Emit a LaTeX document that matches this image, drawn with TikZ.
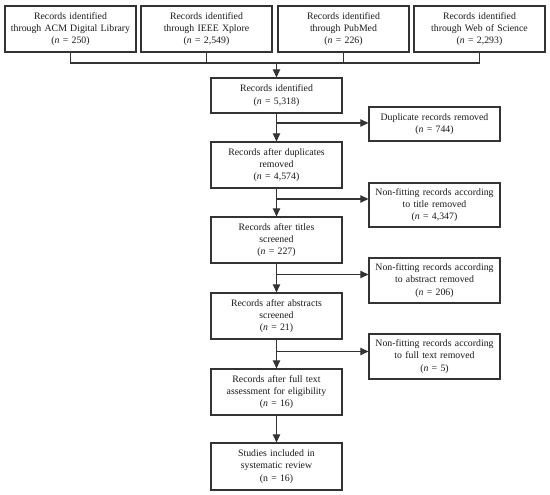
\documentclass[tikz,border=0pt]{standalone}
\usepackage{fontspec}
\setmainfont{Liberation Serif}
\usetikzlibrary{positioning, arrows.meta}

\begin{document}
\begin{tikzpicture}[
  x=1pt, y=-1pt,
  color=black!80, line width=1.2pt,
  box/.style  = {rectangle, draw, line width=1.3pt, minimum width=131pt, text width=125pt, align=center,
                 inner sep=0pt, font=\fontsize{9.8}{12.4}\selectfont, text=black!90},
  arr/.style  = {-{Triangle[length=8pt, width=7.5pt]}},
  ]
  \useasboundingbox (0,0) rectangle (550,495);

  % Database searches
  \node (acm)    at (70.5,29)   [box, minimum height=46pt] {Records identified\\ through ACM Digital Library\\ (\textit{n} = 250)};
  \node (ieee)   at (206.5,29)  [box, minimum height=46pt] {Records identified\\ through IEEE Xplore\\ (\textit{n} = 2,549)};
  \node (pubmed) at (343.5,29)  [box, minimum height=46pt] {Records identified\\ through PubMed\\ (\textit{n} = 226)};
  \node (wos)    at (479.5,29)  [box, minimum height=46pt] {Records identified\\ through Web of Science\\ (\textit{n} = 2,293)};

  % Screening steps
  \node (ident)     at (276.5,95.5) [box, minimum height=35pt] {Records identified\\ (\textit{n} = 5,318)};
  \node (afterdup)  at (276.5,165)  [box, minimum height=46pt] {Records after duplicates\\ removed\\ (\textit{n} = 4,574)};
  \node (titles)    at (276.5,240)  [box, minimum height=46pt] {Records after titles\\ screened\\ (\textit{n} = 227)};
  \node (abstracts) at (276.5,316)  [box, minimum height=46pt] {Records after abstracts\\ screened\\ (\textit{n} = 21)};
  \node (fulltext)  at (276.5,392)  [box, minimum height=46pt] {Records after full text\\ assessment for eligibility\\ (\textit{n} = 16)};
  \node (studies)   at (276.5,466.5)[box, minimum height=47pt] {Studies included in\\ systematic review\\ (n = 16)};

  % Excluded records
  \node (dup)     at (434.5,124)   [box, minimum height=34pt] {Duplicate records removed\\ (\textit{n} = 744)};
  \node (notitle) at (434.5,205)   [box, minimum height=44pt] {Non-fitting records according\\ to title removed\\ (\textit{n} = 4,347)};
  \node (noabs)   at (434.5,280.5) [box, minimum height=45pt] {Non-fitting records according\\ to abstract removed\\ (\textit{n} = 206)};
  \node (nofull)  at (434.5,356.5) [box, minimum height=45pt] {Non-fitting records according\\ to full text removed\\ (\textit{n} = 5)};

  % Merge the four searches
  \coordinate (bus) at (276.5,63);
  \draw (acm.south) |- (bus) -| (wos.south);
  \draw (ieee.south)   -- (ieee.south |- bus);
  \draw (pubmed.south) -- (pubmed.south |- bus);
  \draw[arr] (bus) -- (ident.north);

  % Main flow
  \draw[arr] (ident)     -- (afterdup);
  \draw[arr] (afterdup)  -- (titles);
  \draw[arr] (titles)    -- (abstracts);
  \draw[arr] (abstracts) -- (fulltext);
  \draw[arr] (fulltext)  -- (studies);

  % Branches to the removed records
  \coordinate (b1) at ([yshift=1pt]dup.west);
  \coordinate (b2) at ([yshift=6pt]notitle.west);
  \coordinate (b3) at ([yshift=6pt]noabs.west);
  \coordinate (b4) at ([yshift=5pt]nofull.west);
  \draw[arr] (ident.south |- b1)     -- (b1);
  \draw[arr] (afterdup.south |- b2)  -- (b2);
  \draw[arr] (titles.south |- b3)    -- (b3);
  \draw[arr] (abstracts.south |- b4) -- (b4);
\end{tikzpicture}
\end{document}
